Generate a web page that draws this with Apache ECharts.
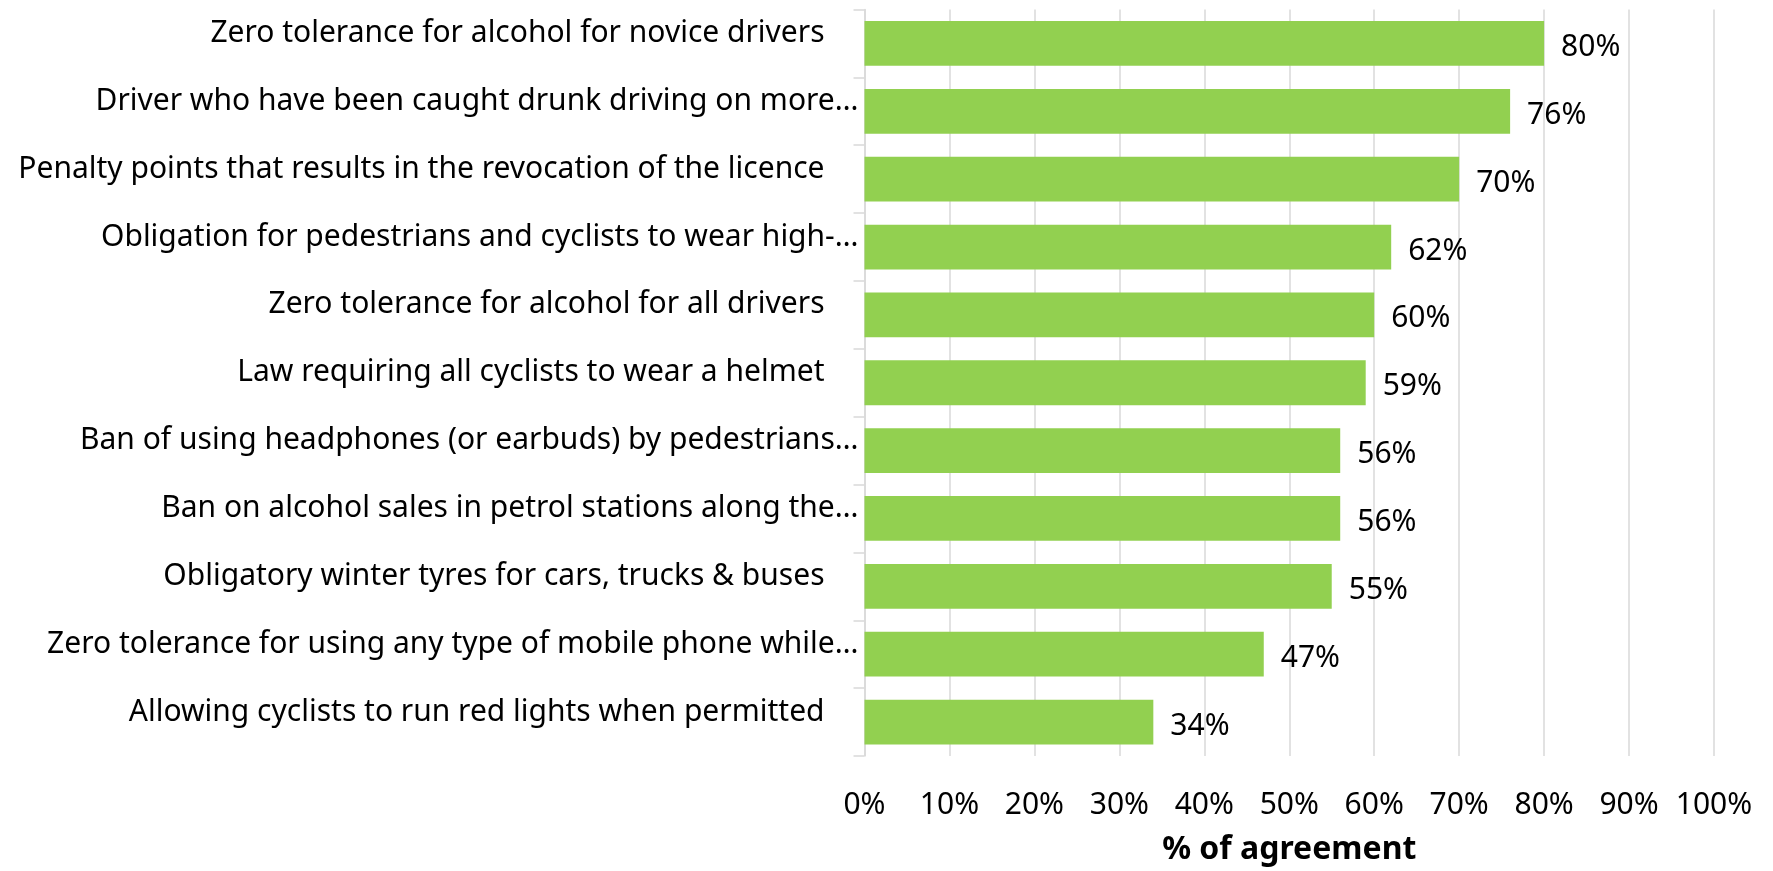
<!DOCTYPE html>
<html>
<head>
<meta charset="utf-8">
<script src="https://cdn.jsdelivr.net/npm/echarts@6/dist/echarts.min.js"></script>
<style>
  html, body { margin: 0; padding: 0; background: #fff; }
  #main { width: 1773px; height: 871px; }
</style>
</head>
<body>
<div id="main"></div>
<script>
// categories as shown in the chart (top to bottom)
var categories = [
  'Zero tolerance for alcohol for novice drivers',
  'Driver who have been caught drunk driving on more…',
  'Penalty points that results in the revocation of the licence',
  'Obligation for pedestrians and cyclists to wear high-…',
  'Zero tolerance for alcohol for all drivers',
  'Law requiring all cyclists to wear a helmet',
  'Ban of using headphones (or earbuds) by pedestrians…',
  'Ban on alcohol sales in petrol stations along the…',
  'Obligatory winter tyres for cars, trucks & buses',
  'Zero tolerance for using any type of mobile phone while…',
  'Allowing cyclists to run red lights when permitted'
];
var agreement = [80, 76, 70, 62, 60, 59, 56, 56, 55, 47, 34];
var xTicks = [0, 10, 20, 30, 40, 50, 60, 70, 80, 90, 100];

var FONT = 'Noto Sans';
var SIZE = 30;
var chart = echarts.init(document.getElementById('main'));

var option = {
  animation: false,
  textStyle: { fontFamily: FONT },
  grid: { left: 864.5, right: 59, top: 9.5, bottom: 109, containLabel: false },
  xAxis: {
    type: 'value',
    min: xTicks[0],
    max: xTicks[xTicks.length - 1],
    interval: 10,
    name: '% of agreement',
    nameLocation: 'middle',
    nameGap: 78,
    nameTextStyle: { fontFamily: FONT, fontSize: 32, fontWeight: 'bold', color: '#000' },
    axisLine: { show: false },
    axisTick: { show: false },
    axisLabel: { fontFamily: FONT, fontSize: SIZE, color: '#000', margin: 34, formatter: '{value}%' },
    splitLine: { show: true, lineStyle: { color: '#d9d9d9', width: 1.5 } }
  },
  yAxis: {
    type: 'category',
    inverse: true,
    data: categories,
    axisLine: { show: true, lineStyle: { color: '#d9d9d9', width: 1.5 } },
    axisTick: { show: true, length: 11, lineStyle: { color: '#d9d9d9', width: 1.5 } },
    axisLabel: {
      fontFamily: FONT, fontSize: SIZE, color: '#000', margin: 6,
      // full labels sit a bit further left than the cut ones; all sit a little high
      formatter: function (v) {
        return v.slice(-1) === '…' ? '{c|' + v + '}' : '{f|' + v + '}';
      },
      rich: {
        c: { fontFamily: FONT, fontSize: SIZE, color: '#000', padding: [0, 0, 20, 0] },
        f: { fontFamily: FONT, fontSize: SIZE, color: '#000', padding: [0, 34, 20, 0] }
      }
    }
  },
  series: [{
    type: 'bar',
    data: agreement,
    barCategoryGap: '34%',
    itemStyle: { color: '#92d050' },
    label: {
      show: true,
      position: 'right',
      distance: 17,
      offset: [0, 4],
      fontFamily: FONT,
      fontSize: SIZE,
      color: '#000',
      formatter: '{c}%'
    }
  }]
};

chart.setOption(option);
</script>
</body>
</html>
